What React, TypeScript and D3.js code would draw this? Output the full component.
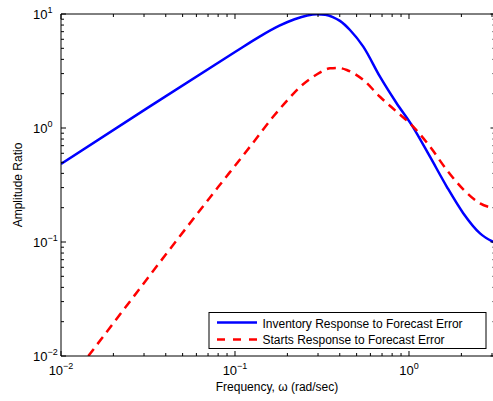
import React from "react";
import * as d3 from "d3";

const invFreq = [0.01, 0.0316, 0.1, 0.14, 0.18, 0.22, 0.26, 0.296, 0.33, 0.365, 0.401, 0.458, 0.546, 0.681, 0.849, 1.037, 1.32, 1.65, 2.05, 2.56, 3.14];
const invAmp = [0.483, 1.51, 4.64, 6.4, 7.9, 9.0, 9.7, 9.95, 9.85, 9.4, 8.7, 7.24, 5.17, 2.82, 1.65, 1.06, 0.56, 0.305, 0.179, 0.119, 0.098];

const startFreq = [0.01, 0.02, 0.04, 0.0802, 0.0935, 0.125, 0.166, 0.2, 0.237, 0.29, 0.352, 0.39, 0.439, 0.546, 0.681, 0.849, 1.037, 1.32, 1.65, 2.05, 2.56, 3.14];
const startAmp = [0.00485, 0.0194, 0.0776, 0.305, 0.41, 0.72, 1.26, 1.75, 2.3, 2.9, 3.34, 3.37, 3.23, 2.64, 1.88, 1.39, 1.06, 0.686, 0.428, 0.29, 0.218, 0.197];

const xMajorExp = [-2, -1, 0];
const yMajorExp = [-2, -1, 0, 1];
const seriesNames = ["Inventory Response to Forecast Error", "Starts Response to Forecast Error"];
const xLabel = "Frequency, \u03c9 (rad/sec)";
const yLabel = "Amplitude Ratio";

const W = 493, H = 401;
const L = 61, R = 495.5, T = 14, B = 356;
const FONT = "'Liberation Sans', Arial, Helvetica, sans-serif";

export default function App() {
  const x = d3.scaleLog().domain([0.01, Math.PI]).range([L, R]);
  const y = d3.scaleLog().domain([0.01, 10]).range([B, T]);

  const xMinor: number[] = [];
  for (const e of xMajorExp) for (let m = 2; m <= 9; m++) { const v = m * Math.pow(10, e); if (v <= Math.PI) xMinor.push(v); }
  const yMinor: number[] = [];
  for (const e of [-2, -1, 0]) for (let m = 2; m <= 9; m++) yMinor.push(m * Math.pow(10, e));

  const line = d3.line<[number, number]>().x(d => x(d[0])).y(d => y(d[1])).curve(d3.curveMonotoneX);
  const invPath = line(invFreq.map((f, i) => [f, invAmp[i]]) as [number, number][]) || "";
  const startPath = line(startFreq.map((f, i) => [f, startAmp[i]]) as [number, number][]) || "";

  const maj = 5, min = 3;
  const sup = (e: number) => (e < 0 ? "\u2212" + Math.abs(e) : String(e));

  return (
    <svg width={W} height={H} style={{ position: "absolute", left: 0, top: 0, background: "#fff" }} fontFamily={FONT}>
      <defs>
        <clipPath id="plotclip"><rect x={L} y={T} width={R - L} height={B - T} /></clipPath>
      </defs>
      <rect x={0} y={0} width={W} height={H} fill="#fff" />
      <g clipPath="url(#plotclip)">
        <path d={invPath} fill="none" stroke="#0000ff" strokeWidth={2.5} />
        <path d={startPath} fill="none" stroke="#ff0000" strokeWidth={2.5} strokeDasharray="9,6" />
      </g>
      <g stroke="#000" strokeWidth={1} fill="none">
        <line x1={L} y1={B} x2={R} y2={B} />
        <line x1={L} y1={T} x2={R} y2={T} />
        <line x1={L} y1={T} x2={L} y2={B} />
        <line x1={R} y1={T} x2={R} y2={B} />
        {xMajorExp.map(e => {
          const px = x(Math.pow(10, e));
          return <g key={"xM" + e}><line x1={px} y1={B} x2={px} y2={B - maj} /><line x1={px} y1={T} x2={px} y2={T + maj} /></g>;
        })}
        {xMinor.map((v, i) => {
          const px = x(v);
          return <g key={"xm" + i}><line x1={px} y1={B} x2={px} y2={B - min} /><line x1={px} y1={T} x2={px} y2={T + min} /></g>;
        })}
        {yMajorExp.map(e => {
          const py = y(Math.pow(10, e));
          return <g key={"yM" + e}><line x1={L} y1={py} x2={L + maj} y2={py} /><line x1={R} y1={py} x2={R - maj} y2={py} /></g>;
        })}
        {yMinor.map((v, i) => {
          const py = y(v);
          return <g key={"ym" + i}><line x1={L} y1={py} x2={L + min} y2={py} /><line x1={R} y1={py} x2={R - min} y2={py} /></g>;
        })}
      </g>
      {xMajorExp.map(e => (
        <text key={"xl" + e} x={x(Math.pow(10, e))} y={375} fontSize={13} textAnchor="middle" fill="#000">
          10<tspan fontSize={9} dy={-6}>{sup(e)}</tspan>
        </text>
      ))}
      {yMajorExp.map(e => (
        <text key={"yl" + e} x={33} y={y(Math.pow(10, e)) + 5} fontSize={13} textAnchor="start" fill="#000">
          10<tspan fontSize={9} dy={-6}>{sup(e)}</tspan>
        </text>
      ))}
      <text x={277} y={391} fontSize={12} textAnchor="middle" fill="#000">{xLabel}</text>
      <text transform={`translate(22,${(T + B) / 2}) rotate(-90)`} fontSize={12} textAnchor="middle" fill="#000">{yLabel}</text>
      <rect x={209} y={312.5} width={277} height={36} fill="#fff" stroke="#000" strokeWidth={1} />
      <line x1={217} y1={322.5} x2={257} y2={322.5} stroke="#0000ff" strokeWidth={2.5} />
      <line x1={217} y1={339.5} x2={257} y2={339.5} stroke="#ff0000" strokeWidth={2.5} strokeDasharray="8,8" />
      <text x={262.5} y={328} fontSize={12} fill="#000">{seriesNames[0]}</text>
      <text x={262.5} y={343.5} fontSize={12} fill="#000">{seriesNames[1]}</text>
    </svg>
  );
}
